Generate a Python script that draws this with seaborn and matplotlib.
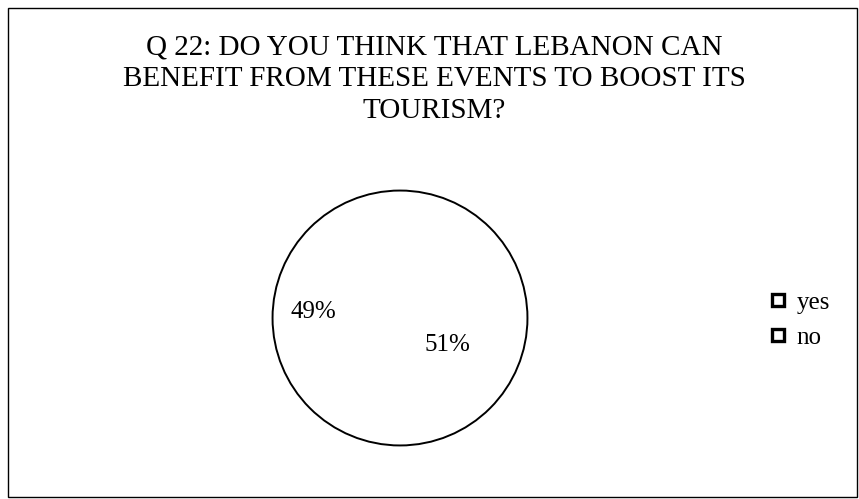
import matplotlib
matplotlib.use("Agg")
import matplotlib.pyplot as plt
import seaborn as sns
from matplotlib.patches import Patch, Circle, Rectangle

categories = ["yes", "no"]
values = [51, 49]
title = "Q 22: DO YOU THINK THAT LEBANON CAN\nBENEFIT FROM THESE EVENTS TO BOOST ITS\nTOURISM?"

sns.set_theme(style="white")
plt.rcParams['font.family'] = ['Liberation Serif', 'DejaVu Serif']
plt.rcParams['text.color'] = 'black'

fig = plt.figure(figsize=(8.59, 4.99), dpi=100)
fig.patch.set_facecolor("white")

# outer frame
fig.add_artist(Rectangle((0.009, 0.004), 0.989, 0.98, transform=fig.transFigure,
                         fill=False, edgecolor="black", linewidth=1.0))

fig.text(0.506, 0.931, title, ha="center", va="top", fontsize=21,
         linespacing=1.3, color="black")

ax = fig.add_axes([270/859, 51/499, 260/859, 260/499])
wedges, texts, autotexts = ax.pie(values, labels=None, startangle=90, counterclock=False,
                                  colors=["white", "white"],
                                  wedgeprops=dict(edgecolor="none", linewidth=0),
                                  autopct=lambda p: f"{p:.0f}%", pctdistance=0.6,
                                  textprops=dict(fontsize=18, color="black"))
# label placement as in the original
autotexts[0].set_position((0.37, -0.21))
autotexts[1].set_position((-0.68, 0.05))
ax.add_patch(Circle((0, 0), 1, fill=False, edgecolor="black", linewidth=1.4))
ax.set_xlim(-1.02, 1.02)
ax.set_ylim(-1.02, 1.02)
ax.set_aspect("equal")
ax.axis("off")

handles = [Patch(facecolor="white", edgecolor="black", linewidth=2.4) for _ in categories]
leg = fig.legend(handles, categories, loc="center left", bbox_to_anchor=(0.872, 0.358),
                 frameon=False, fontsize=18, handlelength=0.5, handleheight=0.38,
                 handletextpad=0.5, labelspacing=0.5)
for t in leg.get_texts():
    t.set_color("black")

fig.savefig("out.png", dpi=100, facecolor="white")
